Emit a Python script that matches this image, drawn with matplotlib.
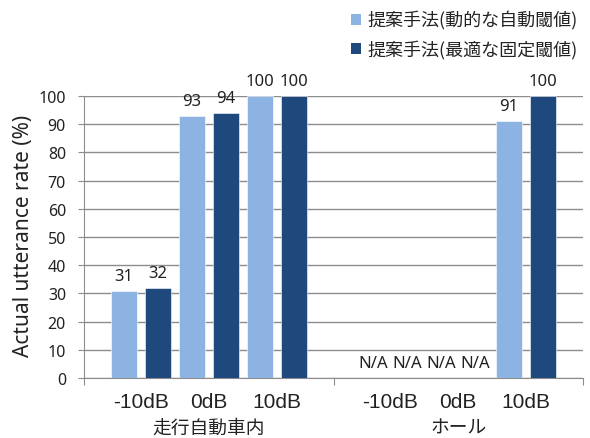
import matplotlib
matplotlib.use("Agg")
import matplotlib.pyplot as plt
from matplotlib.patches import Patch
from matplotlib.transforms import blended_transform_factory

plt.rcParams['font.family'] = ['Noto Sans', 'Noto Sans CJK JP', 'DejaVu Sans']

# Data
groups = ["走行自動車内", "ホール"]
conditions = ["-10dB", "0dB", "10dB"]
series_names = ["提案手法(動的な自動閾値)", "提案手法(最適な固定閾値)"]
dynamic_threshold = [[31, 93, 100], [None, None, 91]]
fixed_threshold = [[32, 94, 100], [None, None, 100]]
yticks = list(range(0, 101, 10))

colors = ["#8DB3E2", "#1F497D"]
text_color = "#222222"
grid_color = "#8C8C8C"
cjk = ['Noto Sans CJK JP', 'DejaVu Sans']

W, H = 590, 439
fig = plt.figure(figsize=(W / 100, H / 100), dpi=100)
ax = fig.add_axes([84 / W, 60 / H, 499 / W, 282 / H])

group_width = 250 / 68
bar_w = 26 / 68
offset = 17 / 68

centers = []
for gi, gname in enumerate(groups):
    gmid = group_width * (gi + 0.5)
    for ci, cond in enumerate(conditions):
        xc = gmid + (ci - 1)
        centers.append(xc)
        for si, vals in enumerate([dynamic_threshold, fixed_threshold]):
            v = vals[gi][ci]
            x = xc + (si * 2 - 1) * offset
            if v is None:
                label, top = "N/A", 0
            else:
                ax.bar(x, v, width=bar_w, color=colors[si], zorder=3,
                       edgecolor="white", linewidth=0.4)
                label, top = str(v), v
            ax.annotate(label, (x, top), xytext=(0, 5),
                        textcoords="offset points", ha="center",
                        va="bottom", fontsize=12, color=text_color,
                        zorder=4)

ax.set_xlim(0, 2 * group_width)
ax.set_ylim(0, 100)
ax.set_yticks(yticks)
ax.yaxis.grid(True, color=grid_color, linewidth=1.0, zorder=0)
ax.set_axisbelow(True)

# Group boundaries as major ticks, conditions as unmarked minor labels
ax.set_xticks([0, group_width, 2 * group_width])
ax.set_xticklabels([])
ax.set_xticks(centers, minor=True)
ax.set_xticklabels(conditions * len(groups), minor=True, fontsize=15,
                   color=text_color, family=['Liberation Sans'])
ax.tick_params(axis="x", which="major", length=5, color=grid_color)
ax.tick_params(axis="x", which="minor", length=0, pad=10)
ax.tick_params(axis="y", length=4, color=grid_color, pad=9,
               labelsize=11.5, labelcolor=text_color)

for side in ("top", "right"):
    ax.spines[side].set_visible(False)
for side in ("left", "bottom"):
    ax.spines[side].set_color(grid_color)

trans = blended_transform_factory(ax.transData, fig.transFigure)
for gi, gname in enumerate(groups):
    ax.text(group_width * (gi + 0.5), 11 / H, gname, transform=trans,
            ha="center", va="center", fontsize=13.5, color=text_color,
            family=cjk)

fig.text(24 / W, 1 - 236 / H, "Actual utterance rate (%)", rotation=90,
         ha="center", va="center", fontsize=15, color=text_color)

handles = [Patch(facecolor=c, edgecolor="none") for c in colors]
leg = fig.legend(handles, series_names, loc="upper right",
                 bbox_to_anchor=(594 / W, 1.01), frameon=False,
                 handlelength=0.55, handleheight=0.55, handletextpad=0.35,
                 labelspacing=0.55,
                 prop={"family": cjk, "size": 13})
for t in leg.get_texts():
    t.set_color(text_color)

fig.savefig("out.png", dpi=100)
